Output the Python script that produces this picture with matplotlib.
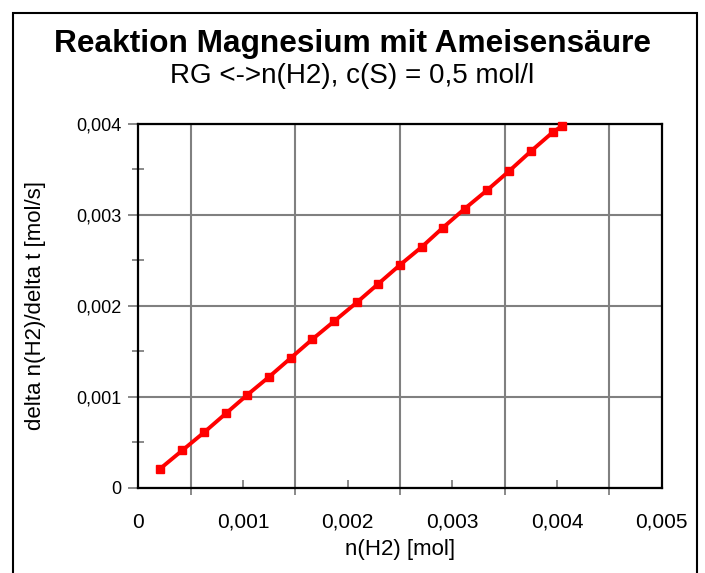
import numpy as np
import matplotlib.pyplot as plt
from matplotlib.patches import Rectangle
from matplotlib.ticker import FuncFormatter

plt.rcParams['font.family'] = ['Liberation Sans', 'DejaVu Sans']

# Messwerte: n(H2) [mol] und delta n(H2)/delta t [mol/s]
n_h2 = [0.00021, 0.00042, 0.00063, 0.00084, 0.00104, 0.00125, 0.00146, 0.00166,
        0.00187, 0.00209, 0.00229, 0.00250, 0.00271, 0.00291, 0.00312, 0.00333,
        0.00354, 0.00375, 0.00396, 0.00405]
rate = [0.00021, 0.00041, 0.00061, 0.00082, 0.00102, 0.00122, 0.00143, 0.00163,
        0.00183, 0.00204, 0.00224, 0.00245, 0.00265, 0.00286, 0.00307, 0.00327,
        0.00348, 0.00370, 0.00391, 0.00398]

x_ticks = [0, 0.001, 0.002, 0.003, 0.004, 0.005]
y_ticks = [0, 0.001, 0.002, 0.003, 0.004]

W, H = 705, 573
fig = plt.figure(figsize=(W / 100, H / 100), dpi=100)
ax = fig.add_axes([138.3 / W, 1 - 487.7 / H, (661.7 - 138.3) / W, (487.7 - 124) / H])

ax.plot(n_h2, rate, color='#ff0000', lw=2.8, marker='s', ms=6, zorder=5, clip_on=False)

ax.set_xlim(0, 0.005)
ax.set_ylim(0, 0.004)

komma = FuncFormatter(lambda v, p: '0' if v == 0 else f'{v:.3f}'.replace('.', ','))
ax.set_xticks(x_ticks)
ax.set_xticks(np.arange(0.0005, 0.005, 0.001), minor=True)
ax.set_yticks(y_ticks)
ax.set_yticks(np.arange(0.0005, 0.004, 0.001), minor=True)
ax.xaxis.set_major_formatter(komma)
ax.yaxis.set_major_formatter(komma)

ax.tick_params(axis='x', which='major', direction='in', length=6, width=1.3,
               color='#808080', labelsize=15, pad=18)
ax.tick_params(axis='x', which='minor', direction='out', length=5, width=1.3, color='#808080')
ax.tick_params(axis='y', which='major', direction='out', length=7, width=1.3,
               color='#808080', labelsize=13, pad=5)
ax.tick_params(axis='y', which='minor', direction='inout', length=9, width=1.3, color='#808080')

ax.grid(True, which='minor', axis='x', color='#808080', lw=1.5)
ax.grid(True, which='major', axis='y', color='#808080', lw=1.5)
ax.set_axisbelow(True)

for s in ax.spines.values():
    s.set_color('black')
    s.set_linewidth(1.6)
    s.set_zorder(4)

ax.set_xlabel('n(H2) [mol]', fontsize=16, labelpad=5)
ax.set_ylabel('delta n(H2)/delta t [mol/s]', fontsize=16, labelpad=22)

fig.text(0.5, 1 - 44 / H, 'Reaktion Magnesium mit Ameisensäure', ha='center', va='center',
         fontsize=22.8, fontweight='bold')
fig.text(0.5, 1 - 76 / H, 'RG <->n(H2), c(S) = 0,5 mol/l', ha='center', va='center', fontsize=20)

fig.add_artist(Rectangle((12.5 / W, -0.02), (697 - 12.5) / W, 1 - 12.5 / H + 0.02,
                         transform=fig.transFigure, fill=False, lw=1.5, color='black'))

fig.savefig('out.png', dpi=100)
